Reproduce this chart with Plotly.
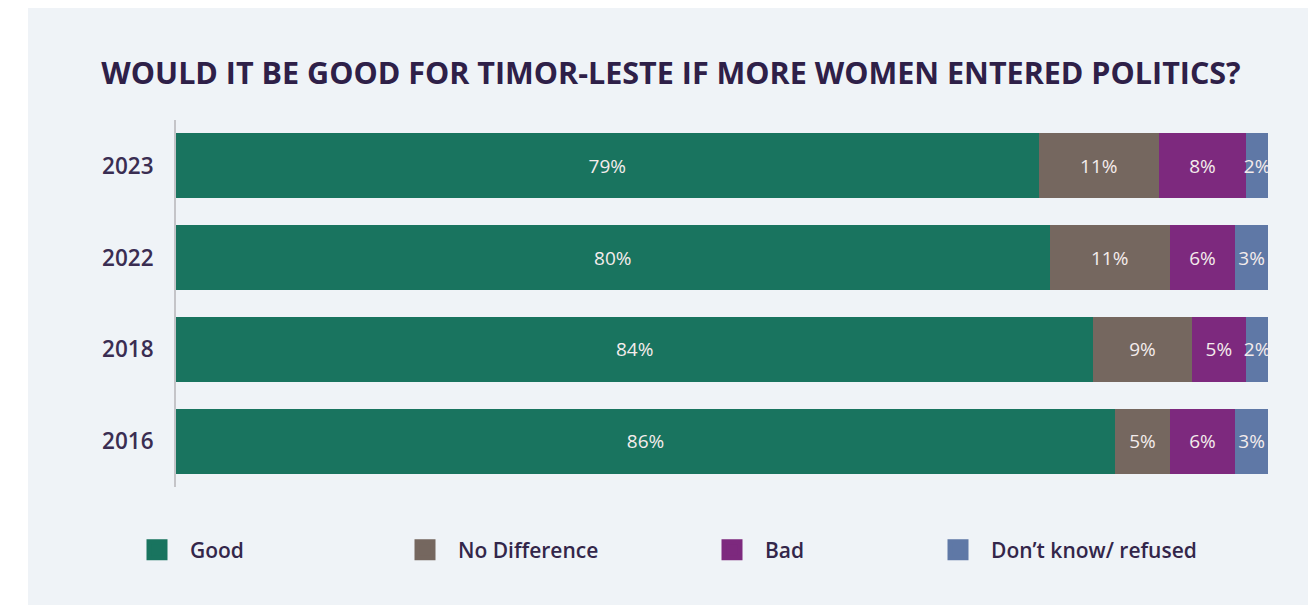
import plotly.graph_objects as go

years = ["2023", "2022", "2018", "2016"]
series_names = ["Good", "No Difference", "Bad", "Don\u2019t know/ refused"]
good = [79, 80, 84, 86]
no_diff = [11, 11, 9, 5]
bad = [8, 6, 5, 6]
dont_know = [2, 3, 2, 3]
colors = ["#19745f", "#75675f", "#7d297e", "#5f78a6"]

title = "WOULD IT BE GOOD FOR TIMOR-LESTE IF MORE WOMEN ENTERED POLITICS?"

# the page body adds an 8px margin; work in figure coordinates
OFF = 8
W, H = 1316 - OFF, 605 - OFF
L, T = 176 - OFF, 120 - OFF
pw, ph = 1092, 367
R, B = W - L - pw, H - T - ph


def px_x(x):  # x in reference page pixels
    return (x - OFF - L) / pw


def px_y(y):
    return (T + ph - (y - OFF)) / ph


fig = go.Figure()
values = [good, no_diff, bad, dont_know]
legend_ids = ["legend", "legend2", "legend3", "legend4"]
for name, vals, col, lg in zip(series_names, values, colors, legend_ids):
    fig.add_trace(go.Bar(
        y=years, x=vals, name=name, orientation="h",
        marker=dict(color=col, line=dict(width=0)),
        text=[f"{v}%" for v in vals], textposition="inside",
        insidetextanchor="middle", textangle=0,
        textfont=dict(family="Open Sans", size=19, color="#f4ecec"),
        width=0.71, legend=lg, showlegend=False, cliponaxis=False,
        hoverinfo="skip",
    ))
    fig.add_trace(go.Scatter(
        x=[None], y=[None], mode="markers", name=name, legend=lg,
        marker=dict(symbol="square", size=16, color=col,
                    line=dict(color=col, width=5)),
        showlegend=True,
    ))

legend_text_x = [190, 458, 765, 991]
leg_common = dict(orientation="h", yanchor="middle", xanchor="left",
                  y=px_y(550), bgcolor="rgba(0,0,0,0)", itemwidth=56,
                  font=dict(family="Open Sans", size=21, color="#33264a",
                            weight=600),
                  itemsizing="trace")
layout_legends = {}
for lg, tx in zip(legend_ids, legend_text_x):
    layout_legends[lg] = dict(x=px_x(tx - 66), **leg_common)

fig.update_layout(
    width=W, height=H,
    margin=dict(l=L, r=R, t=T, b=B, pad=0),
    barmode="stack",
    paper_bgcolor="white",
    plot_bgcolor="rgba(0,0,0,0)",
    uniformtext=dict(mode="show", minsize=19),
    title=dict(text=title, x=(671 - OFF) / W, xanchor="center",
               y=1 - (73 - OFF) / H, yanchor="middle",
               font=dict(family="Open Sans", size=30.5, color="#2e2048",
                         weight=700)),
    xaxis=dict(range=[0, 100], visible=False, fixedrange=True),
    yaxis=dict(categoryorder="array", categoryarray=years[::-1],
               range=[-0.5, 3.5], showgrid=False, zeroline=False,
               showline=True, linecolor="#c4c4c8", linewidth=2,
               ticks="", ticklabelstandoff=16,
               tickfont=dict(family="Open Sans", size=22.5, color="#3a2d52",
                             weight=600)),
    shapes=[dict(type="rect", xref="paper", yref="paper",
                 x0=px_x(28), x1=px_x(1330), y0=px_y(620), y1=px_y(-10),
                 fillcolor="#eff3f7", line=dict(width=0), layer="below")],
    **layout_legends,
)

fig.write_html("out.html")
